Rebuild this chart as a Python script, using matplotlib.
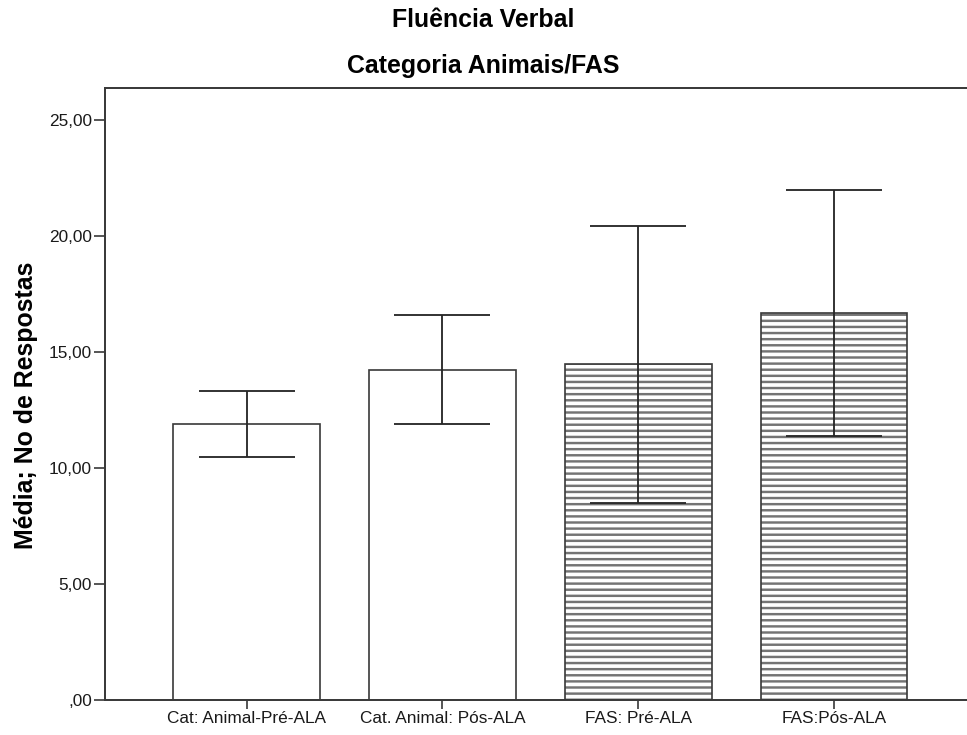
import numpy as np
import matplotlib
matplotlib.use("Agg")
import matplotlib.pyplot as plt
from matplotlib.ticker import FuncFormatter

# Verbal fluency means with confidence interval bounds
categories = ["Cat: Animal-Pré-ALA", "Cat. Animal: Pós-ALA", "FAS: Pré-ALA", "FAS:Pós-ALA"]
means = [11.90, 14.24, 14.48, 16.67]
ci_low = [10.46, 11.88, 8.49, 11.38]
ci_high = [13.32, 16.59, 20.42, 21.97]
hatched = [False, False, True, True]
yticks = [0, 5, 10, 15, 20, 25]

plt.rcParams["font.family"] = ["Liberation Sans", "DejaVu Sans"]
plt.rcParams["hatch.color"] = "#747474"
plt.rcParams["hatch.linewidth"] = 1.6

DPI = 110
fig = plt.figure(figsize=(967 / DPI, 735 / DPI), dpi=DPI)
ax = fig.add_axes([105 / 967, 35 / 735, 870 / 967, 612 / 735])

x = np.arange(len(categories))
edge = "#3a3a3a"
for xi, m, h in zip(x, means, hatched):
    if h:
        # hatch layer first, then a clean black outline on top
        ax.bar(xi, m, width=0.75, color="white", hatch="---", edgecolor="#747474",
               linewidth=0, zorder=2)
    ax.bar(xi, m, width=0.75, facecolor="none", edgecolor=edge, linewidth=1.1, zorder=3)

lower = np.array(means) - np.array(ci_low)
upper = np.array(ci_high) - np.array(means)
ax.errorbar(x, means, yerr=[lower, upper], fmt="none", ecolor="#262626",
            elinewidth=1.2, capsize=31.4, capthick=1.2, zorder=4)

ax.set_xlim(-0.7227, 3.72)
ax.set_ylim(0, 26.38)
ax.set_yticks(yticks)
ax.yaxis.set_major_formatter(FuncFormatter(
    lambda v, p: ",00" if v == 0 else f"{v:.2f}".replace(".", ",")))
ax.set_xticks(x)
ax.set_xticklabels(categories)
ax.tick_params(axis="y", length=7)
ax.tick_params(axis="x", length=6)
ax.tick_params(axis="both", direction="out", width=1.1, color=edge,
               labelsize=11.3, labelcolor="#1a1a1a", pad=1.5)
for s in ax.spines.values():
    s.set_color(edge)
    s.set_linewidth(1.3)

fig.text(0.5, 1 - 20 / 735, "Fluência Verbal", ha="center", va="center",
         fontsize=16.3, fontweight="bold")
fig.text(0.5, 1 - 66 / 735, "Categoria Animais/FAS", ha="center", va="center",
         fontsize=16.3, fontweight="bold")
fig.text(26 / 967, 1 - 405 / 735, "Média; No de Respostas", rotation=90,
         ha="center", va="center", fontsize=16.3, fontweight="bold")

fig.savefig("out.png", dpi=DPI)
